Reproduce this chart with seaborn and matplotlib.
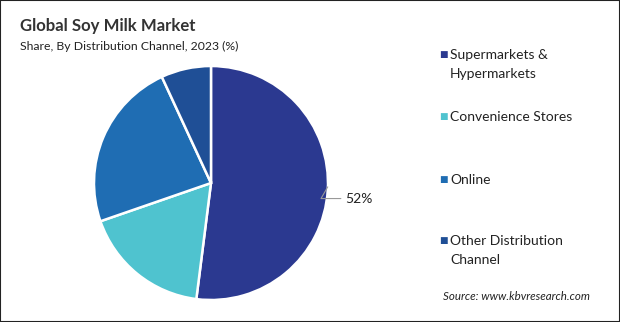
import numpy as np
import matplotlib.pyplot as plt
import seaborn as sns
from matplotlib.patches import Rectangle

sns.set_theme(style='white')
plt.rcParams['font.family'] = ['Lato', 'DejaVu Sans']

# data
channels = ['Supermarkets &\nHypermarkets', 'Convenience Stores', 'Online',
            'Other Distribution\nChannel']
shares = [52.0, 17.7, 23.4, 6.9]
colors = ['#2b3990', '#4fc3cf', '#1f6db3', '#1f4f96']
shown_label = '52%'

W, H = 620, 322
fig = plt.figure(figsize=(6.2, 3.22), dpi=100)
ax = fig.add_axes([0.1516, 0.0683, 0.3774, 0.7267])
wedges, _ = ax.pie(shares, colors=colors, startangle=90, counterclock=False,
                   wedgeprops=dict(edgecolor='white', linewidth=1.8))
ax.set_xlim(-1, 1)
ax.set_ylim(-1, 1)
ax.set_aspect('equal')
ax.axis('off')

# label for the biggest slice
w = wedges[0]
mid = np.deg2rad((w.theta1 + w.theta2) / 2)
x0, y0 = np.cos(mid), np.sin(mid)
ax.annotate(shown_label, xy=(x0, y0 + 0.03), xytext=(1.15, y0 - 0.07),
            fontsize=10, color='#222222', va='center', ha='left',
            arrowprops=dict(arrowstyle='-', color='#999999', lw=0.8,
                            connectionstyle='angle,angleA=0,angleB=60,rad=0',
                            shrinkA=1, shrinkB=0),
            annotation_clip=False)

fig.text(20 / W, 1 - 26 / H, 'Global Soy Milk Market', fontsize=12.1,
         fontweight='bold', color='#333333', va='center')
fig.text(20 / W, 1 - 46 / H, 'Share, By Distribution Channel, 2023 (%)',
         fontsize=8.8, color='#222222', va='center')

# legend, laid out by hand like the original
first_line_y = [55, 117, 180, 241]
for name, col, yp in zip(channels, colors, first_line_y):
    fig.text(439 / W, 1 - yp / H, '■', fontsize=6.5, color=col, va='center',
             family='DejaVu Sans')
    for j, line in enumerate(name.split('\n')):
        fig.text(450 / W, 1 - (yp + 18.5 * j) / H, line, fontsize=10,
                 color='#222222', va='center')

fig.text(443 / W, 1 - 296 / H, 'Source: www.kbvresearch.com', fontsize=8.3,
         style='italic', color='#222222', va='center')

fig.patches.append(Rectangle((0, 0), 1, 1, transform=fig.transFigure, fill=False,
                             edgecolor='#222222', linewidth=1.5))

fig.savefig('out.png', dpi=100)
